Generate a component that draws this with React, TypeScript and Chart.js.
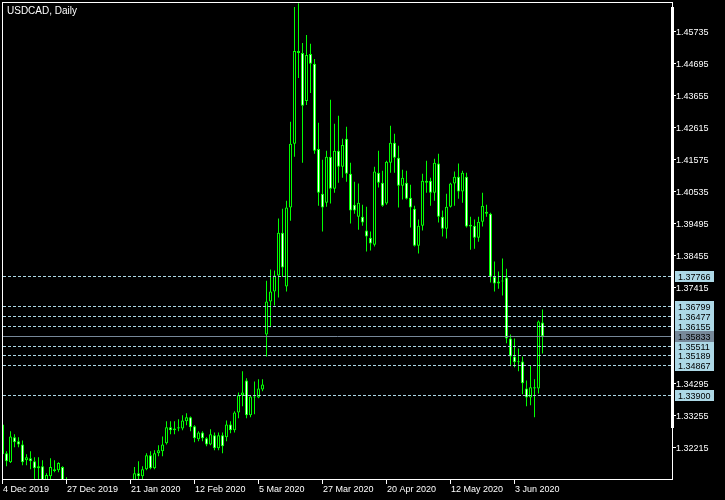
import React, { useEffect, useRef } from "react";
import { Chart, registerables } from "chart.js";

Chart.register(...registerables);

const chartTitle = "USDCAD, Daily";

const opens = [
  1.3296, 1.3202, 1.3173, 1.3254, 1.3241, 1.3231, 1.3179, 1.3186, 1.3176, 1.3153,
  1.3160, 1.3108, 1.3127, 1.3150, 1.3147, 1.3157, 1.3108, 1.3095, 1.3050, 1.2990,
  1.2960, 1.2990, 1.2975, 1.3015, 1.3045, 1.3065, 1.3055, 1.3065, 1.3060, 1.3050,
  1.3060, 1.3055, 1.3060, 1.3111, 1.3137, 1.3127, 1.3150, 1.3196, 1.3153, 1.3202,
  1.3209, 1.3235, 1.3287, 1.3277, 1.3283, 1.3283, 1.3306, 1.3319, 1.3290, 1.3248,
  1.3270, 1.3251, 1.3231, 1.3261, 1.3218, 1.3261, 1.3254, 1.3296, 1.3277, 1.3335,
  1.3391, 1.3439, 1.3326, 1.3387, 1.3384, 1.3410, 1.3589, 1.3696, 1.3729, 1.3781,
  1.3920, 1.3745, 1.4002, 1.4210, 1.4512, 1.4505, 1.4349, 1.4502, 1.4470, 1.4193,
  1.4047, 1.4018, 1.4167, 1.4063, 1.4187, 1.4135, 1.4226, 1.4112, 1.4011, 1.3972,
  1.3972, 1.3927, 1.3904, 1.3881, 1.4115, 1.4083, 1.4015, 1.4148, 1.4213, 1.4164,
  1.4073, 1.4083, 1.4034, 1.3998, 1.3878, 1.3943, 1.4083, 1.4089, 1.4050, 1.4145,
  1.3972, 1.3933, 1.4005, 1.4080, 1.4102, 1.4054, 1.4102, 1.3946, 1.3943, 1.3904,
  1.3956, 1.3982, 1.3982, 1.3777, 1.3761, 1.3761, 1.3774, 1.3576, 1.3517, 1.3501,
  1.3501, 1.3413, 1.3384, 1.3413, 1.3413, 1.3628,
];

const highs = [
  1.3303, 1.3209, 1.3274, 1.3264, 1.3254, 1.3244, 1.3199, 1.3209, 1.3189, 1.3189,
  1.3179, 1.3137, 1.3186, 1.3179, 1.3173, 1.3160, 1.3124, 1.3110, 1.3060, 1.3000,
  1.3010, 1.3000, 1.3035, 1.3060, 1.3080, 1.3075, 1.3085, 1.3075, 1.3075, 1.3080,
  1.3080, 1.3070, 1.3110, 1.3157, 1.3176, 1.3160, 1.3202, 1.3209, 1.3212, 1.3228,
  1.3257, 1.3306, 1.3306, 1.3306, 1.3313, 1.3326, 1.3332, 1.3322, 1.3293, 1.3274,
  1.3274, 1.3254, 1.3280, 1.3270, 1.3270, 1.3270, 1.3309, 1.3306, 1.3339, 1.3400,
  1.3469, 1.3446, 1.3391, 1.3436, 1.3443, 1.3443, 1.3764, 1.3800, 1.3797, 1.3966,
  1.3998, 1.4024, 1.4281, 1.4655, 1.4667, 1.4538, 1.4564, 1.4535, 1.4486, 1.4278,
  1.4158, 1.4187, 1.4353, 1.4275, 1.4301, 1.4226, 1.4265, 1.4148, 1.4086, 1.4080,
  1.4011, 1.4005, 1.3924, 1.4135, 1.4187, 1.4122, 1.4154, 1.4268, 1.4242, 1.4203,
  1.4125, 1.4122, 1.4076, 1.4008, 1.3963, 1.4112, 1.4154, 1.4099, 1.4161, 1.4177,
  1.3992, 1.4047, 1.4083, 1.4119, 1.4145, 1.4122, 1.4115, 1.3972, 1.3963, 1.3972,
  1.4050, 1.4011, 1.3985, 1.3826, 1.3794, 1.3836, 1.3803, 1.3589, 1.3576, 1.3543,
  1.3517, 1.3439, 1.3488, 1.3443, 1.3634, 1.3670,
];

const lows = [
  1.3192, 1.3160, 1.3170, 1.3222, 1.3222, 1.3163, 1.3163, 1.3150, 1.3111, 1.3111,
  1.3085, 1.3092, 1.3111, 1.3140, 1.3140, 1.3101, 1.3085, 1.3040, 1.2955, 1.2950,
  1.2955, 1.2955, 1.2970, 1.3000, 1.3030, 1.3040, 1.3045, 1.3050, 1.3045, 1.3040,
  1.3045, 1.3045, 1.3055, 1.3105, 1.3114, 1.3114, 1.3147, 1.3150, 1.3150, 1.3192,
  1.3192, 1.3231, 1.3264, 1.3264, 1.3274, 1.3277, 1.3293, 1.3274, 1.3238, 1.3241,
  1.3241, 1.3225, 1.3228, 1.3212, 1.3212, 1.3202, 1.3241, 1.3267, 1.3270, 1.3316,
  1.3355, 1.3316, 1.3319, 1.3329, 1.3381, 1.3404, 1.3517, 1.3612, 1.3683, 1.3709,
  1.3777, 1.3729, 1.3959, 1.4167, 1.4424, 1.4148, 1.4336, 1.4375, 1.4177, 1.4008,
  1.3924, 1.4005, 1.4015, 1.4050, 1.4083, 1.4099, 1.4086, 1.3950, 1.3982, 1.3930,
  1.3943, 1.3859, 1.3862, 1.3875, 1.4067, 1.4005, 1.4011, 1.4115, 1.4115, 1.4002,
  1.4028, 1.4028, 1.3937, 1.3875, 1.3852, 1.3927, 1.4050, 1.4008, 1.4024, 1.3953,
  1.3908, 1.3901, 1.4002, 1.4008, 1.4031, 1.4018, 1.3937, 1.3865, 1.3868, 1.3891,
  1.3940, 1.3972, 1.3758, 1.3729, 1.3738, 1.3716, 1.3560, 1.3485, 1.3482, 1.3469,
  1.3394, 1.3355, 1.3358, 1.3319, 1.3397, 1.3527,
];

const closes = [
  1.3199, 1.3176, 1.3257, 1.3238, 1.3231, 1.3173, 1.3189, 1.3176, 1.3153, 1.3160,
  1.3101, 1.3131, 1.3157, 1.3144, 1.3170, 1.3111, 1.3095, 1.3050, 1.2990, 1.2960,
  1.2990, 1.2975, 1.3015, 1.3045, 1.3065, 1.3055, 1.3065, 1.3060, 1.3050, 1.3060,
  1.3055, 1.3060, 1.3105, 1.3137, 1.3127, 1.3150, 1.3196, 1.3153, 1.3202, 1.3212,
  1.3231, 1.3287, 1.3277, 1.3283, 1.3287, 1.3309, 1.3319, 1.3287, 1.3251, 1.3270,
  1.3251, 1.3231, 1.3264, 1.3218, 1.3261, 1.3225, 1.3296, 1.3277, 1.3335, 1.3391,
  1.3400, 1.3326, 1.3387, 1.3384, 1.3413, 1.3426, 1.3696, 1.3729, 1.3781, 1.3920,
  1.3807, 1.4002, 1.4210, 1.4512, 1.4505, 1.4333, 1.4499, 1.4470, 1.4187, 1.4050,
  1.4002, 1.4167, 1.4063, 1.4187, 1.4135, 1.4206, 1.4112, 1.3992, 1.3992, 1.4018,
  1.3953, 1.3908, 1.3885, 1.4119, 1.4083, 1.4008, 1.4151, 1.4213, 1.4164, 1.4073,
  1.4099, 1.4031, 1.4002, 1.3878, 1.3943, 1.4089, 1.4089, 1.4050, 1.4148, 1.3972,
  1.3933, 1.4005, 1.4080, 1.4102, 1.4054, 1.4115, 1.3940, 1.3940, 1.3904, 1.3956,
  1.4008, 1.3988, 1.3777, 1.3755, 1.3755, 1.3764, 1.3576, 1.3517, 1.3498, 1.3498,
  1.3430, 1.3384, 1.3417, 1.3417, 1.3631, 1.35833,
];

const dateLabels = [
  "4 Dec 2019", "27 Dec 2019", "21 Jan 2020", "12 Feb 2020", "5 Mar 2020",
  "27 Mar 2020", "20 Apr 2020", "12 May 2020", "3 Jun 2020",
];
const dateLabelBars = [0, 16, 32, 48, 64, 80, 96, 112, 128];

const priceTickValues = [
  1.45735, 1.44695, 1.43655, 1.42615, 1.41575, 1.40535, 1.39495,
  1.38455, 1.37415, 1.34295, 1.33255, 1.32215,
];

const levelPrices = [1.37766, 1.36799, 1.36477, 1.36155, 1.35511, 1.35189, 1.34867, 1.339];
const bidPrice = 1.35833;

const GREEN = "#00ff00";
const LEVEL_BLUE = "#add8e6";
const BID_GRAY = "#778899";
const FONT = '"Liberation Sans", Arial, sans-serif';

export default function App() {
  const ref = useRef<HTMLCanvasElement>(null);

  useEffect(() => {
    document.body.style.margin = "0";
    document.body.style.background = "#000";

    const overlay = {
      id: "mtOverlay",
      afterDatasetsDraw(chart: any) {
        const { ctx, chartArea: ca, scales } = chart;
        const ys = scales.y;
        ctx.save();
        ctx.lineWidth = 1;
        ctx.setLineDash([3, 2]);
        ctx.strokeStyle = LEVEL_BLUE;
        for (const p of levelPrices) {
          const py = Math.floor(ys.getPixelForValue(p)) + 0.5;
          ctx.beginPath();
          ctx.moveTo(ca.left, py);
          ctx.lineTo(ca.right, py);
          ctx.stroke();
        }
        ctx.setLineDash([]);
        ctx.strokeStyle = BID_GRAY;
        const bp = Math.floor(ys.getPixelForValue(bidPrice)) + 0.5;
        ctx.beginPath();
        ctx.moveTo(ca.left, bp);
        ctx.lineTo(ca.right, bp);
        ctx.stroke();
        ctx.restore();
      },
      afterDraw(chart: any) {
        const { ctx, scales } = chart;
        const xs = scales.x;
        const ys = scales.y;
        ctx.save();
        ctx.fillStyle = "#ffffff";
        // frame
        ctx.fillRect(2, 2, 671, 1);
        ctx.fillRect(2, 2, 1, 478);
        ctx.fillRect(2, 479, 671, 1);
        ctx.fillRect(672, 2, 1, 478);
        ctx.fillRect(671, 7, 3, 421);

        // title
        ctx.font = `10px ${FONT}`;
        ctx.textAlign = "left";
        ctx.textBaseline = "alphabetic";
        ctx.fillText(chartTitle, 7, 14);

        // price ticks
        ctx.font = `9px ${FONT}`;
        for (const p of priceTickValues) {
          const row = Math.floor(ys.getPixelForValue(p));
          ctx.fillStyle = "#ffffff";
          ctx.fillRect(673, row, 3, 1);
          ctx.fillText(p.toFixed(5), 676, row + 4);
        }

        // level boxes
        const box = (p: number, bg: string) => {
          const row = Math.floor(ys.getPixelForValue(p));
          ctx.fillStyle = bg;
          ctx.fillRect(675, row - 5, 39, 11);
          ctx.fillStyle = "#000000";
          ctx.fillText(p.toFixed(5), 678, row + 4);
        };
        for (const p of levelPrices) box(p, LEVEL_BLUE);
        box(bidPrice, BID_GRAY);

        // date ticks
        ctx.fillStyle = "#ffffff";
        dateLabelBars.forEach((b, k) => {
          const col = Math.floor(xs.getPixelForValue(b));
          ctx.fillRect(col, 480, 1, 4);
          ctx.fillText(dateLabels[k], col + 1, 492);
        });
        ctx.restore();
      },
    };

    const chart = new Chart(ref.current as HTMLCanvasElement, {
      type: "bar",
      data: {
        datasets: [
          {
            label: "body",
            data: opens.map((o, i) => ({ x: i, y: [o, closes[i]] })) as any,
            backgroundColor: opens.map((o, i) => (closes[i] >= o ? "#000000" : "#ffffff")),
            borderColor: GREEN,
            borderWidth: 1,
            borderSkipped: false,
            barThickness: 3,
            minBarLength: 1,
            grouped: false,
            inflateAmount: 0,
            order: 0,
          } as any,
          {
            label: "wick",
            data: lows.map((l, i) => ({ x: i, y: [l, highs[i]] })) as any,
            backgroundColor: GREEN,
            borderWidth: 0,
            barThickness: 1,
            grouped: false,
            inflateAmount: 0,
            order: 1,
          } as any,
        ],
      },
      options: {
        responsive: false,
        animation: false,
        events: [],
        layout: { padding: { left: 3, top: 3, right: 53, bottom: 21 } },
        scales: {
          x: { type: "linear", min: 0.125, max: 167.375, display: false, offset: false } as any,
          y: { type: "linear", min: 1.311828, max: 1.466791, display: false },
        },
        plugins: { legend: { display: false }, tooltip: { enabled: false } },
      },
      plugins: [overlay],
    });
    return () => chart.destroy();
  }, []);

  return (
    <div style={{ width: 725, height: 500, background: "#000" }}>
      <canvas ref={ref} width={725} height={500} style={{ display: "block" }} />
    </div>
  );
}
